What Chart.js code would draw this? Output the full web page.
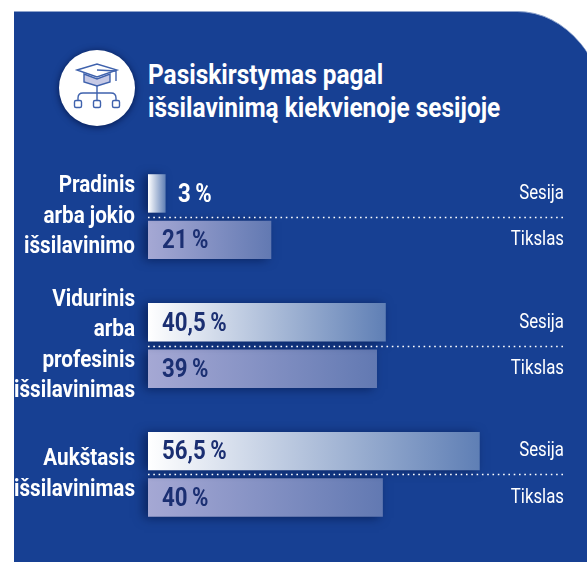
<!DOCTYPE html>
<html lang="lt">
<head>
<meta charset="utf-8">
<title>Pasiskirstymas pagal išsilavinimą</title>
<script src="https://cdn.jsdelivr.net/npm/chart.js@4/dist/chart.umd.min.js"></script>
<style>
    html, body { margin: 0; padding: 0; background: #fff; overflow: hidden; }
    #page { position: relative; width: 587px; height: 562px; overflow: hidden; }
    #panel {
        position: absolute; left: 14px; top: 11px; width: 593px; bottom: 0;
        background: #174093; border-top: 1px solid #8ea3cc; box-sizing: border-box;
        border-top-right-radius: 90px 110px;
    }
    #badge {
        position: absolute; left: 59px; top: 50px; width: 76px; height: 76px;
        border-radius: 50%; background: #fff; box-shadow: 0 1px 7px rgba(0, 15, 60, 0.8);
    }
    #title {
        position: absolute; left: 148px; top: 59px; margin: 0; color: #fff; white-space: nowrap;
        font: bold 28px/32.5px Roboto, sans-serif;
        transform: scaleX(0.873); transform-origin: left top;
    }
    canvas { position: absolute; left: 0; top: 0; }
</style>
</head>
<body>
<div id="page">
    <div id="panel"></div>
    <div id="badge">
        <svg width="76" height="76" viewBox="59 50 76 76" fill="none" stroke="#3f62ad" stroke-width="1.4">
            <path d="M84 74 L97 79 L110 74 L110 82 L97 86 L84 82 Z" fill="#c6c9e5"/>
            <path d="M77 70 L97 64 L117 70 L97 77 Z" fill="#fff"/>
            <path d="M97 70 L116 71 L116 81"/>
            <path d="M97 86 V100 M78 100 V98 Q78 93 83 93 H111 Q116 93 116 98 V100"/>
            <rect x="74.5" y="100.5" width="7" height="7" rx="1.5"/>
            <rect x="93.5" y="100.5" width="7" height="7" rx="1.5"/>
            <rect x="112.5" y="100.5" width="7" height="7" rx="1.5"/>
        </svg>
    </div>
    <h1 id="title">Pasiskirstymas pagal<br>išsilavinimą kiekvienoje sesijoje</h1>
    <canvas id="chart" width="587" height="562"></canvas>
</div>

<script>
const categories = [
    ["Pradinis", "arba jokio", "išsilavinimo"],
    ["Vidurinis", "arba", "profesinis", "išsilavinimas"],
    ["Aukštasis", "išsilavinimas"]
];
const seriesNames = ["Sesija", "Tikslas"];
const sessionValues = [3, 40.5, 56.5];
const targetValues = [21, 39, 40];

const LABEL_DARK = "#1b2f72";

function barGradient(context, from, to) {
    const chart = context.chart;
    if (!chart.chartArea || context.parsed === undefined) {
        return to;
    }
    const scale = chart.scales.x;
    const end = scale.getPixelForValue(context.parsed.x);
    const gradient = chart.ctx.createLinearGradient(scale.left, 0, end, 0);
    gradient.addColorStop(0, from);
    gradient.addColorStop(1, to);
    return gradient;
}

// no narrow font installed, so squeeze Roboto sideways
function narrowText(ctx, text, x, y, align, font, squeeze) {
    ctx.save();
    ctx.translate(x, y);
    ctx.scale(squeeze, 1);
    ctx.font = font;
    ctx.textAlign = align;
    ctx.fillText(text, 0, 0);
    ctx.restore();
}

// shadow behind the bars, only for the dataset drawing
const barShadow = {
    id: "barShadow",
    beforeDatasetsDraw(chart) {
        const ctx = chart.ctx;
        ctx.save();
        ctx.shadowColor = "rgba(0, 15, 60, 0.6)";
        ctx.shadowBlur = 10;
        ctx.shadowOffsetX = -4;
        ctx.shadowOffsetY = 1;
    },
    afterDatasetsDraw(chart) {
        chart.ctx.restore();
    }
};

// dotted separators, category names, values in the bars, series names on the right
const barText = {
    id: "barText",
    afterDraw(chart) {
        const ctx = chart.ctx;
        const xScale = chart.scales.x;
        const yScale = chart.scales.y;
        const rightEdge = chart.width - 23;

        ctx.save();
        ctx.strokeStyle = "#fff";
        ctx.lineWidth = 1.6;
        ctx.setLineDash([1.6, 3.7]);
        categories.forEach((c, i) => {
            let y = Math.round(yScale.getPixelForValue(i)) + 0.5;
            ctx.beginPath();
            ctx.moveTo(xScale.left, y);
            ctx.lineTo(rightEdge, y);
            ctx.stroke();
        });
        ctx.setLineDash([]);

        ctx.textBaseline = "middle";
        ctx.fillStyle = "#fff";
        categories.forEach((lines, i) => {
            let middle = yScale.getPixelForValue(i);
            lines.forEach((line, n) => {
                let y = middle + (n - (lines.length - 1) / 2) * 30.5;
                narrowText(ctx, line, 135, y, "right", 'bold 24px Roboto, sans-serif', 0.86);
            });
        });

        chart.data.datasets.forEach((dataset, d) => {
            chart.getDatasetMeta(d).data.forEach((bar, i) => {
                let text = String(dataset.data[i]).replace(".", ",") + "\u2009%";
                let small = bar.x - xScale.left < 40;
                ctx.fillStyle = small ? "#fff" : LABEL_DARK;
                narrowText(ctx, text, small ? 178 : 162, bar.y + 2, "left", 'bold 25px Roboto, sans-serif', 0.89);

                ctx.fillStyle = "#fff";
                narrowText(ctx, dataset.label, rightEdge, bar.y, "right", '21px Roboto, sans-serif', 0.8);
            });
        });
        ctx.restore();
    }
};

new Chart(document.getElementById("chart"), {
    type: "bar",
    plugins: [barShadow, barText],
    data: {
        labels: categories,
        datasets: [
            {
                label: seriesNames[0],
                data: sessionValues,
                backgroundColor: (context) => barGradient(context, "#ffffff", "#5f7fb5")
            },
            {
                label: seriesNames[1],
                data: targetValues,
                backgroundColor: (context) => barGradient(context, "#a5a8d4", "#6279b2")
            }
        ]
    },
    options: {
        indexAxis: "y",
        responsive: false,
        animation: false,
        clip: false,
        categoryPercentage: 0.721,
        barPercentage: 0.828,
        layout: { padding: { left: 148, top: 152.25, bottom: 23.25, right: 28 } },
        plugins: { legend: { display: false }, tooltip: { enabled: false } },
        scales: {
            x: { display: false, min: 0, max: 70 },
            y: { display: false }
        }
    }
});
</script>
</body>
</html>
